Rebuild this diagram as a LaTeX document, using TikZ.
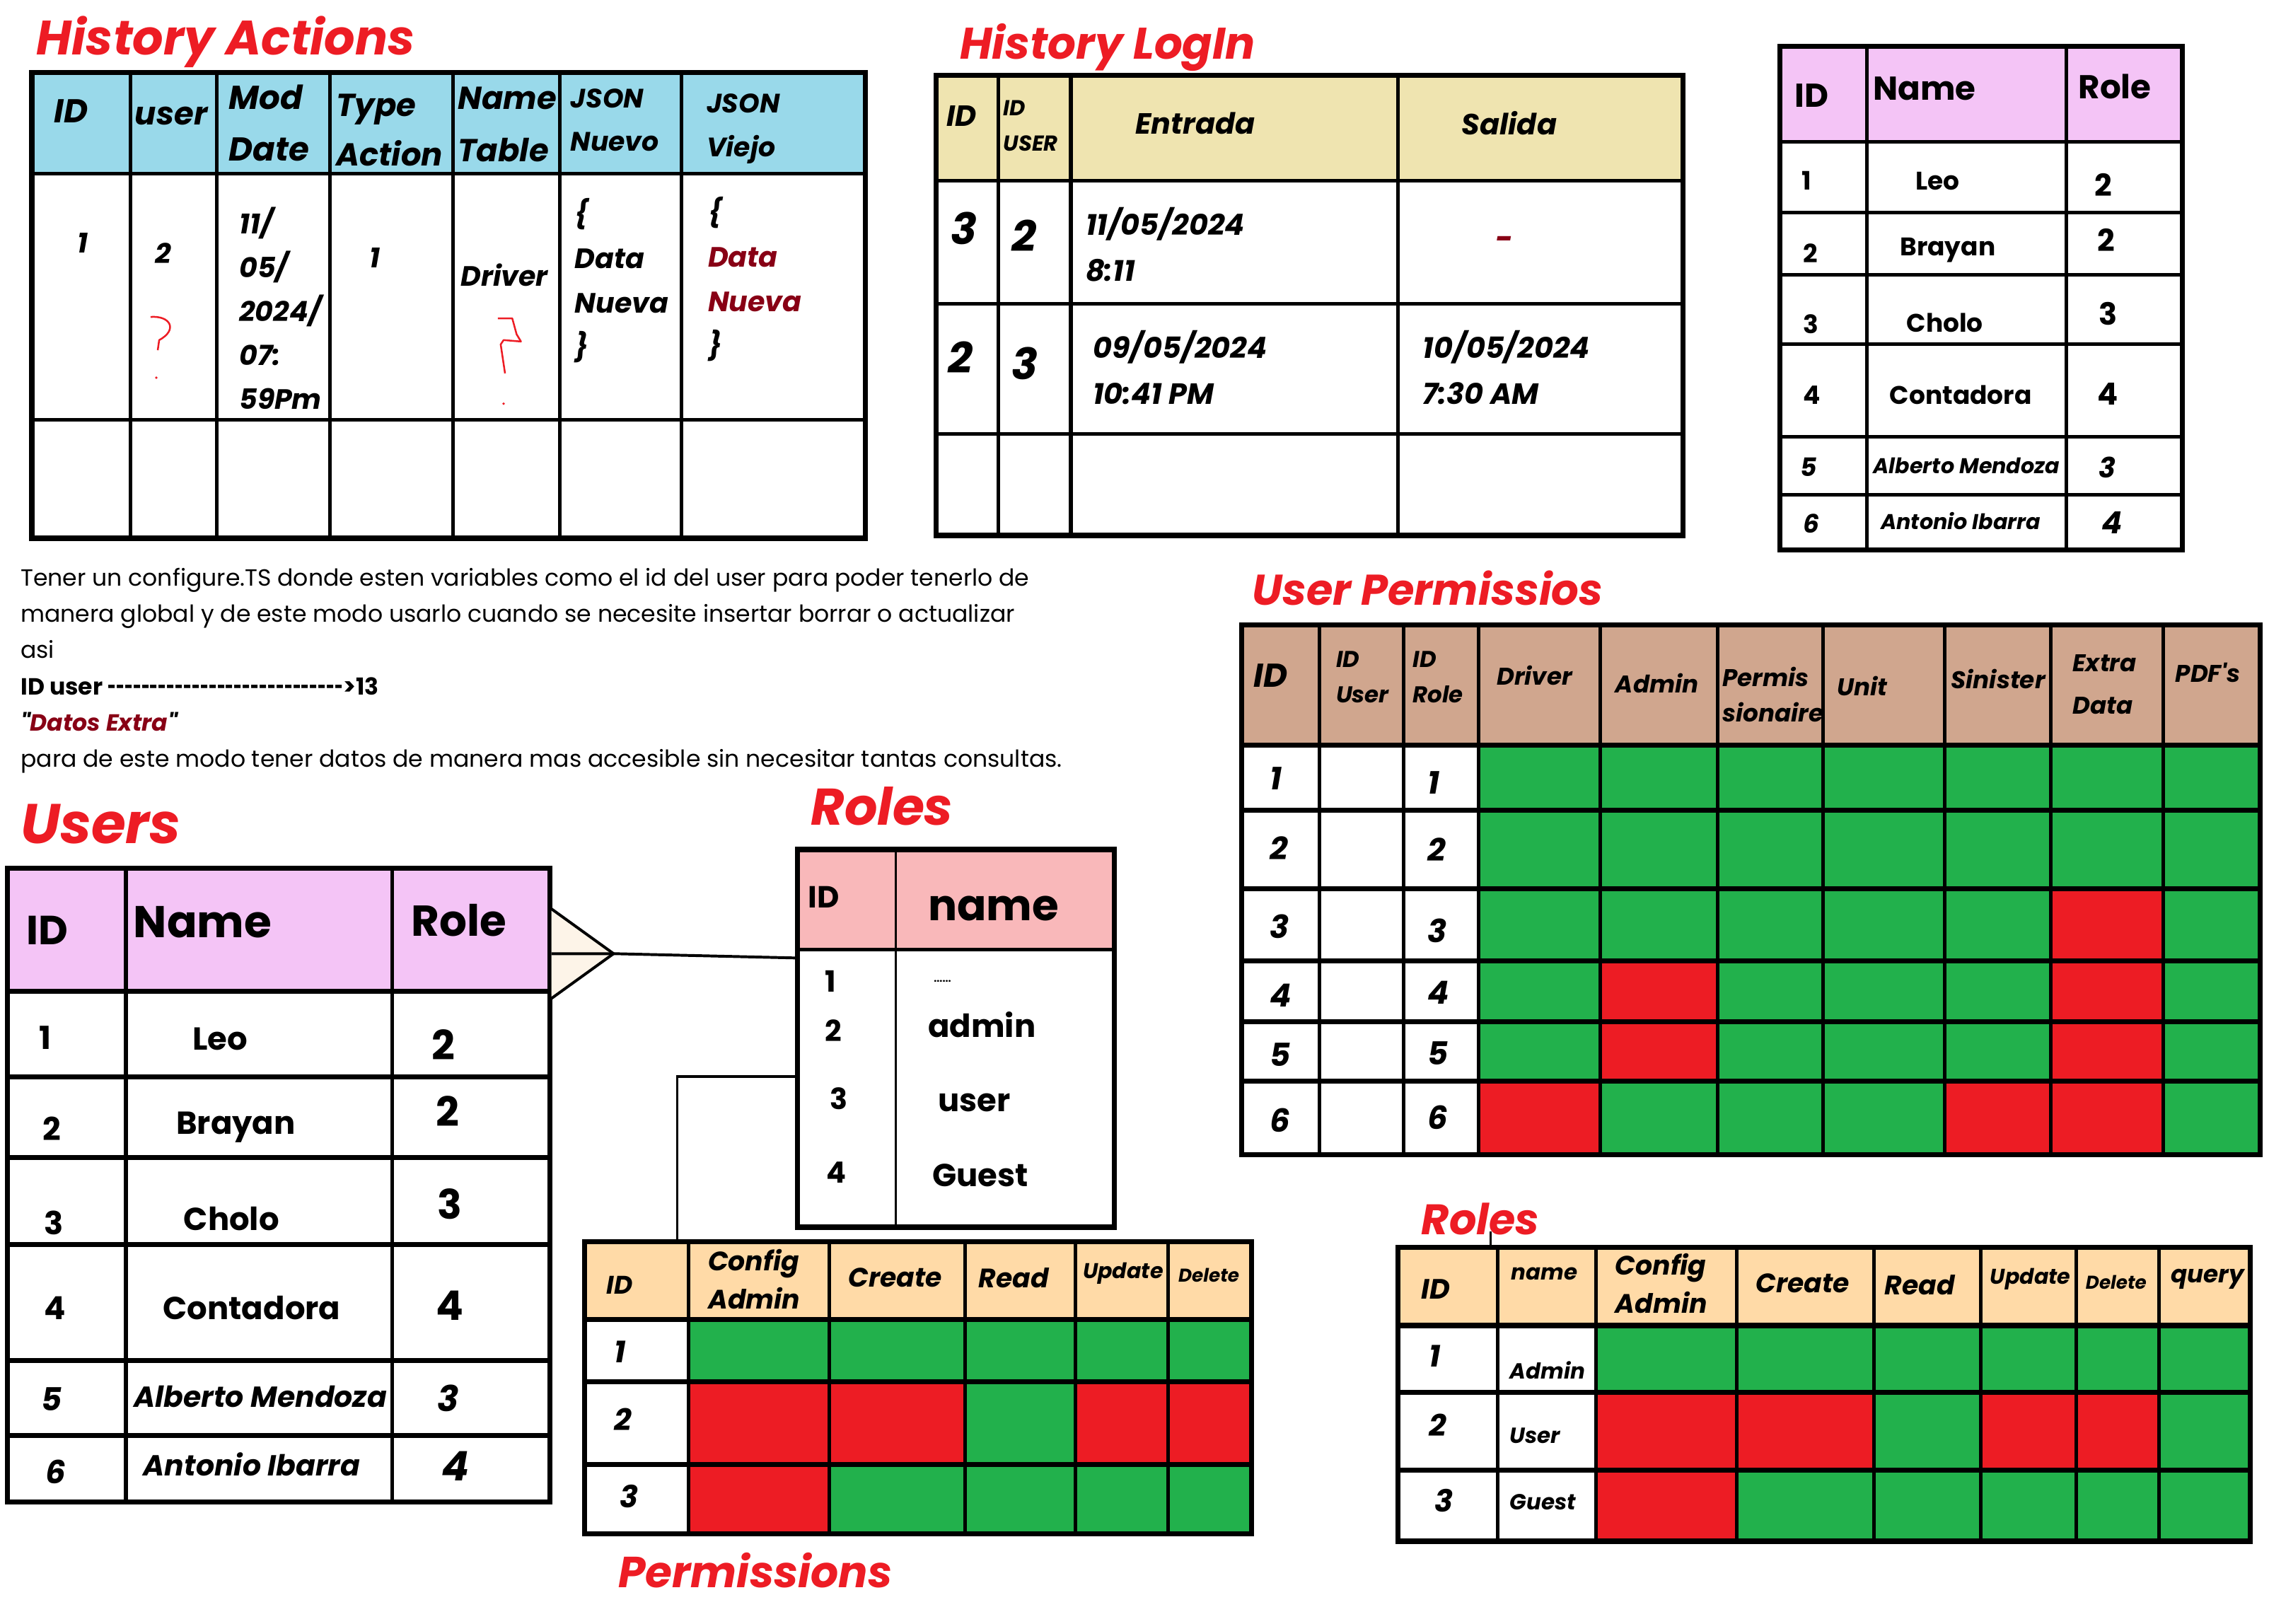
\documentclass[tikz,border=0pt]{standalone}
\usepackage{graphicx}
\usepackage{fontspec}
\setmainfont{Poppins}[Ligatures=TeXOff]
\definecolor{titlered}{HTML}{ED1C24}
\definecolor{darkred}{HTML}{880015}
\definecolor{hablue}{HTML}{99D9EA}
\definecolor{logtan}{HTML}{EFE4B0}
\definecolor{userpink}{HTML}{F4C4F6}
\definecolor{rolepink}{HTML}{F9B8BA}
\definecolor{peach}{HTML}{FFDAA7}
\definecolor{permtan}{HTML}{D0A68E}
\definecolor{okgreen}{HTML}{22B14C}
\definecolor{nored}{HTML}{ED1C24}
\definecolor{cream}{HTML}{FDF4E8}
\newcommand\setfs[2]{\fontsize{#1}{#2}\selectfont}

\begin{document}
\begin{tikzpicture}[
  x=0.02cm, y=-0.02cm,
  frame/.style={line width=2pt},
  grid/.style={line width=1.4pt},
  link/.style={line width=1.1pt},
  ttl/.style={anchor=base west, inner sep=0pt, text=titlered, font=\bfseries\itshape\setfs{#1}{#1}},
  hd/.style 2 args={anchor=west, inner sep=0pt, align=left, font=\bfseries\itshape\setfs{#1}{#2}},
  bd/.style 2 args={anchor=west, inner sep=0pt, align=left, font=\bfseries\setfs{#1}{#2}},
  txt/.style={anchor=base west, inner sep=0pt, font=\setfs{9.2}{12}},
  scribble/.style={draw=titlered, line width=0.7pt, line join=round}
]
\useasboundingbox (0,0) rectangle (1568,1122);

% History Actions
\node[ttl=19] (haTitle) at (25,38) {History Actions};
\fill[hablue] (22,50) rectangle (598,120);
\foreach \x in {90,150,228,313,387,471}
  \draw[grid] (\x,50) -- (\x,372);
\draw[grid] (22,120) -- (598,120) (22,290) -- (598,290);
\draw[frame] (22,50) rectangle (598,372);
\node[hd={13}{20}] (haId) at (37,77) {ID};
\node[hd={12.5}{20}] (haUser) at (93,80) {user};
\node[hd={13}{20.5}] (haMod) at (158,85) {Mod\\Date};
\node[hd={12.5}{19.5}] (haType) at (232,90) {Type\\Action};
\node[hd={12.5}{20.5}] (haName) at (316,86) {Name\\Table};
\node[hd={10.5}{17}] (haNuevo) at (394,83) {JSON\\Nuevo};
\node[hd={10.5}{17}] (haViejo) at (488,89) {JSON\\Viejo};
\node[hd={11}{17.2}] (haR1) at (53,168) {1};
\node[hd={11}{17.2}] (haR2) at (107,175) {2};
\node[hd={11}{17.2}] (haR3) at (165,213) {11/\\05/\\2024/\\07:\\59Pm};
\node[hd={11}{17.2}] (haR4) at (255,178) {1};
\node[hd={11}{17.2}] (haR5) at (318,190) {Driver};
\node[hd={11}{17.4}] (haR6) at (397,194) {\{\\Data\\Nueva\\\}};
\node[hd={11}{17.4}] (haR7) at (489,193) {\{\\\textcolor{darkred}{Data}\\\textcolor{darkred}{Nueva}\\\}};
\draw[scribble] (104,219) .. controls (118,218) and (123,228) .. (110,235) -- (109,242);
\fill[titlered] (108,261) circle (0.9);
\draw[scribble] (344,220) -- (354,220) -- (357,231) -- (360,236) -- (348,235) -- (346,238) -- (349,258);
\fill[titlered] (348,279) circle (0.9);

% History LogIn
\node[ttl=17.4] (hlTitle) at (663,41) {History LogIn};
\fill[logtan] (647,52) rectangle (1163,125);
\foreach \x in {690,740,966}
  \draw[grid] (\x,52) -- (\x,370);
\draw[grid] (647,125) -- (1163,125) (647,210) -- (1163,210) (647,300) -- (1163,300);
\draw[frame] (647,52) rectangle (1163,370);
\node[hd={11.5}{14}] (hlId) at (654,80) {ID};
\node[hd={8.5}{14}] (hlUser) at (693,87) {ID\\USER};
\node[hd={11.5}{14}, anchor=center] (hlIn) at (826,85) {Entrada};
\node[hd={11.5}{14}, anchor=center] (hlOut) at (1043,85) {Salida};
\node[hd={17}{20}] (hlA1) at (657,158) {3};
\node[hd={17}{20}] (hlA2) at (699,163) {2};
\node[hd={11.5}{18}] (hlA3) at (750,169) {11/05/2024\\8:11};
\node[hd={12}{18}, text=darkred] (hlA4) at (1033,168) {-};
\node[hd={17}{20}] (hlB1) at (655,247) {2};
\node[hd={17}{20}] (hlB2) at (699,251) {3};
\node[hd={11.5}{18}] (hlB3) at (755,254) {09/05/2024\\10:41 PM};
\node[hd={11.5}{18}] (hlB4) at (983,254) {10/05/2024\\7:30 AM};

% Users (top right)
\fill[userpink] (1230,32) rectangle (1508,98);
\foreach \x in {1290,1428}
  \draw[grid] (\x,32) -- (\x,380);
\foreach \y in {98,147,190,238,302,342}
  \draw[grid] (1230,\y) -- (1508,\y);
\draw[frame] (1230,32) rectangle (1508,380);
\node[bd={13}{16}] (utId) at (1240,66) {ID};
\node[bd={13}{16}] (utName) at (1294,61) {Name};
\node[bd={13}{16}] (utRole) at (1436,60) {Role};
\node[bd={10}{12}] (utI1) at (1245,125) {1};
\node[bd={10}{12}] (utI2) at (1246,175) {2};
\node[bd={10}{12}] (utI3) at (1246,224) {3};
\node[bd={10}{12}] (utI4) at (1246,273) {4};
\node[hd={10}{12}] (utI5) at (1244,323) {5};
\node[hd={10}{12}] (utI6) at (1246,362) {6};
\node[bd={10}{12}, anchor=center] (utN1) at (1339,125) {Leo};
\node[bd={10}{12}, anchor=center] (utN2) at (1346,173) {Brayan};
\node[bd={10}{12}, anchor=center] (utN3) at (1344,223) {Cholo};
\node[bd={10}{12}, anchor=center] (utN4) at (1355,273) {Contadora};
\node[hd={8.4}{12}, anchor=center] (utN5) at (1359,322) {Alberto Mendoza};
\node[hd={8.4}{12}, anchor=center] (utN6) at (1355,360) {Antonio Ibarra};
\node[bd={12}{12}] (utR1) at (1447,128) {2};
\node[bd={12}{12}] (utR2) at (1449,166) {2};
\node[bd={12}{12}] (utR3) at (1450,217) {3};
\node[bd={12}{12}] (utR4) at (1449,272) {4};
\node[hd={11}{12}] (utR5) at (1450,323) {3};
\node[hd={12}{12}] (utR6) at (1452,361) {4};

% Note about configure.TS
\node[txt] (nt1) at (14,405) {Tener un configure.TS donde esten variables como el id del user para poder tenerlo de};
\node[txt] (nt2) at (14,430) {manera global y de este modo usarlo cuando se necesite insertar borrar o actualizar};
\node[txt] (nt3) at (14,455) {asi};
\node[txt, font=\bfseries\setfs{9.2}{12}] (nt4) at (14,480) {ID user \scalebox{0.62}[1]{----------------------------}>13};
\node[txt, font=\bfseries\itshape\setfs{9.2}{12}] (nt5) at (14,505) {"\textcolor{darkred}{Datos Extra}"};
\node[txt] (nt6) at (14,530) {para de este modo tener datos de manera mas accesible sin necesitar tantas consultas.};

% Users (bottom left)
\node[ttl=22] (usTitle) at (14,583) {Users};
\fill[userpink] (5,600) rectangle (380,685);
\foreach \x in {87,271}
  \draw[grid] (\x,600) -- (\x,1038);
\foreach \y in {685,744,800,860,940,992}
  \draw[frame] (5,\y) -- (380,\y);
\draw[frame] (5,600) rectangle (380,1038);
\node[bd={16}{18}] (usId) at (18,643) {ID};
\node[bd={17.5}{18}] (usName) at (92,637) {Name};
\node[bd={17}{18}] (usRole) at (284,636) {Role};
\node[bd={12.5}{14}] (usI1) at (27,717) {1};
\node[bd={12.5}{14}] (usI2) at (29,780) {2};
\node[bd={12.5}{14}] (usI3) at (30,845) {3};
\node[bd={12.5}{14}] (usI4) at (30,904) {4};
\node[hd={12.5}{14}] (usI5) at (28,967) {5};
\node[hd={12.5}{14}] (usI6) at (31,1017) {6};
\node[bd={12.5}{14}, anchor=center] (usN1) at (152,718) {Leo};
\node[bd={12.5}{14}, anchor=center] (usN2) at (163,779) {Brayan};
\node[bd={12.5}{14}, anchor=center] (usN3) at (160,842) {Cholo};
\node[bd={12.5}{14}, anchor=center] (usN4) at (174,904) {Contadora};
\node[hd={11.4}{14}, anchor=center] (usN5) at (180,965) {Alberto Mendoza};
\node[hd={11.4}{14}, anchor=center] (usN6) at (174,1012) {Antonio Ibarra};
\node[bd={16}{18}] (usR1) at (298,722) {2};
\node[bd={16}{18}] (usR2) at (301,768) {2};
\node[bd={16}{18}] (usR3) at (302,832) {3};
\node[bd={16}{18}] (usR4) at (301,902) {4};
\node[hd={14}{18}] (usR5) at (302,966) {3};
\node[hd={16}{18}] (usR6) at (305,1013) {4};

% Roles (middle)
\node[ttl=20.3] (roTitle) at (560,570) {Roles};
\fill[rolepink] (551,587) rectangle (770,656);
\draw[line width=0.9pt] (619,587) -- (619,848);
\draw[grid] (551,656) -- (770,656);
\draw[frame] (551,587) rectangle (770,848);
\node[bd={12}{14}] (roId) at (558,620) {ID};
\node[bd={17}{18}] (roName) at (641,628) {name};
\node[bd={11.5}{14}] (roI1) at (570,678) {1};
\node[bd={4}{5}] (roN1) at (645,678) {......};
\node[bd={11.5}{14}] (roI2) at (570,712) {2};
\node[bd={12.5}{14}] (roN2) at (641,708) {admin};
\node[bd={11.5}{14}] (roI3) at (573,759) {3};
\node[bd={12.5}{14}] (roN3) at (648,762) {user};
\node[bd={11.5}{14}] (roI4) at (571,810) {4};
\node[bd={12.5}{14}] (roN4) at (644,812) {Guest};

% Users to Roles connector
\coordinate (usOut) at (381,659);
\coordinate (crow) at (424,659);
\coordinate (roIn) at (551,662);
\fill[cream] (381,628) -- (crow) -- (381,690) -- cycle;
\draw[link] (381,628) -- (crow) -- (381,690);
\draw[link] (usOut) -- (crow) -- (roIn);

% Roles to Permissions connector
\coordinate (roOut) at (551,744);
\coordinate (peIn) at (468,858);
\draw[link] (roOut) -| (peIn);

% Permissions
\fill[peach] (404,858) rectangle (865,912);
\fill[okgreen] (476,912) rectangle (865,1060);
\fill[nored] (476,955) rectangle (573,1060);
\fill[nored] (573,955) rectangle (667,1012);
\fill[nored] (743,955) rectangle (865,1012);
\foreach \x in {476,573,667,743,807}
  \draw[grid] (\x,858) -- (\x,1060);
\foreach \y in {912,955,1012}
  \draw[frame] (404,\y) -- (865,\y);
\draw[frame] (404,858) rectangle (865,1060);
\node[hd={10}{14}] (peId) at (419,888) {ID};
\node[hd={10.5}{15}] (peCfg) at (489,884) {Config\\Admin};
\node[hd={10.5}{15}] (peCre) at (586,883) {Create};
\node[hd={10.5}{15}] (peRea) at (676,883) {Read};
\node[hd={8.4}{15}] (peUpd) at (748,880) {Update};
\node[hd={7.3}{15}] (peDel) at (814,881) {Delete};
\node[hd={12}{14}] (peI1) at (424,934) {1};
\node[hd={12}{14}] (peI2) at (424,981) {2};
\node[hd={12}{14}] (peI3) at (428,1034) {3};
\node[ttl=17.1] (peTitle) at (427,1097) {Permissions};

% User Permissios
\node[ttl=16.9] (upTitle) at (865,418) {User Permissios};
\fill[permtan] (858,432) rectangle (1562,515);
\fill[okgreen] (1022,515) rectangle (1562,798);
\fill[nored] (1417,614) rectangle (1495,798);
\fill[nored] (1106,664) rectangle (1187,747);
\fill[nored] (1022,747) rectangle (1106,798);
\fill[nored] (1344,747) rectangle (1417,798);
\foreach \x in {912,970,1022,1106,1187,1260,1344,1417,1495}
  \draw[grid] (\x,432) -- (\x,798);
\foreach \y in {515,560,614,664,706,747}
  \draw[frame] (858,\y) -- (1562,\y);
\draw[frame] (858,432) rectangle (1562,798);
\node[hd={13}{14}] (upId) at (866,467) {ID};
\node[hd={9}{14}] (upUser) at (923,468) {ID\\User};
\node[hd={9}{14}] (upRole) at (976,468) {ID\\Role};
\node[hd={9.5}{14}] (upDrv) at (1034,467) {Driver};
\node[hd={9.5}{14}] (upAdm) at (1116,472) {Admin};
\node[hd={9.5}{14}] (upPer) at (1190,480) {Permis\\sionaire};
\node[hd={9.5}{14}] (upUni) at (1269,474) {Unit};
\node[hd={9.5}{14}] (upSin) at (1348,469) {Sinister};
\node[hd={9.5}{16.5}] (upExt) at (1432,473) {Extra\\Data};
\node[hd={9.5}{14}] (upPdf) at (1503,465) {PDF's};
\foreach \n/\ya/\yb in {1/538/541, 2/586/587, 3/640/643, 4/688/686, 5/729/728, 6/774/772} {
  \node[hd={12.5}{14}] (upI\n) at (877,\ya) {\n};
  \node[hd={12.5}{14}] (upR\n) at (986,\yb) {\n};
}

% Roles (bottom right)
\node[ttl=16.8] (rpTitle) at (982,853) {Roles};
\coordinate (rpStub) at (1030,851);
\coordinate (rpTop) at (1030,862);
\draw[line width=0.8pt] (rpStub) -- (rpTop);
\fill[peach] (966,862) rectangle (1555,916);
\fill[okgreen] (1103,916) rectangle (1555,1065);
\fill[nored] (1103,962) rectangle (1200,1065);
\fill[nored] (1200,962) rectangle (1295,1016);
\fill[nored] (1369,962) rectangle (1492,1016);
\foreach \x in {1035,1103,1200,1295,1369,1435,1492}
  \draw[grid] (\x,862) -- (\x,1065);
\foreach \y in {916,962,1016}
  \draw[frame] (966,\y) -- (1555,\y);
\draw[frame] (966,862) rectangle (1555,1065);
\node[hd={11}{14}] (rpId) at (982,891) {ID};
\node[hd={8.6}{14}] (rpName) at (1044,880) {name};
\node[hd={10.5}{15}] (rpCfg) at (1116,887) {Config\\Admin};
\node[hd={10.5}{15}] (rpCre) at (1213,887) {Create};
\node[hd={10.5}{15}] (rpRea) at (1302,888) {Read};
\node[hd={8.4}{15}] (rpUpd) at (1375,884) {Update};
\node[hd={7.3}{15}] (rpDel) at (1441,886) {Delete};
\node[hd={9.5}{15}] (rpQry) at (1500,884) {query};
\node[hd={12}{14}] (rpI1) at (987,937) {1};
\node[hd={8.6}{14}] (rpN1) at (1043,947) {Admin};
\node[hd={12}{14}] (rpI2) at (987,985) {2};
\node[hd={8.6}{14}] (rpN2) at (1043,992) {User};
\node[hd={12}{14}] (rpI3) at (991,1037) {3};
\node[hd={8.6}{14}] (rpN3) at (1043,1038) {Guest};
\end{tikzpicture}
\end{document}
